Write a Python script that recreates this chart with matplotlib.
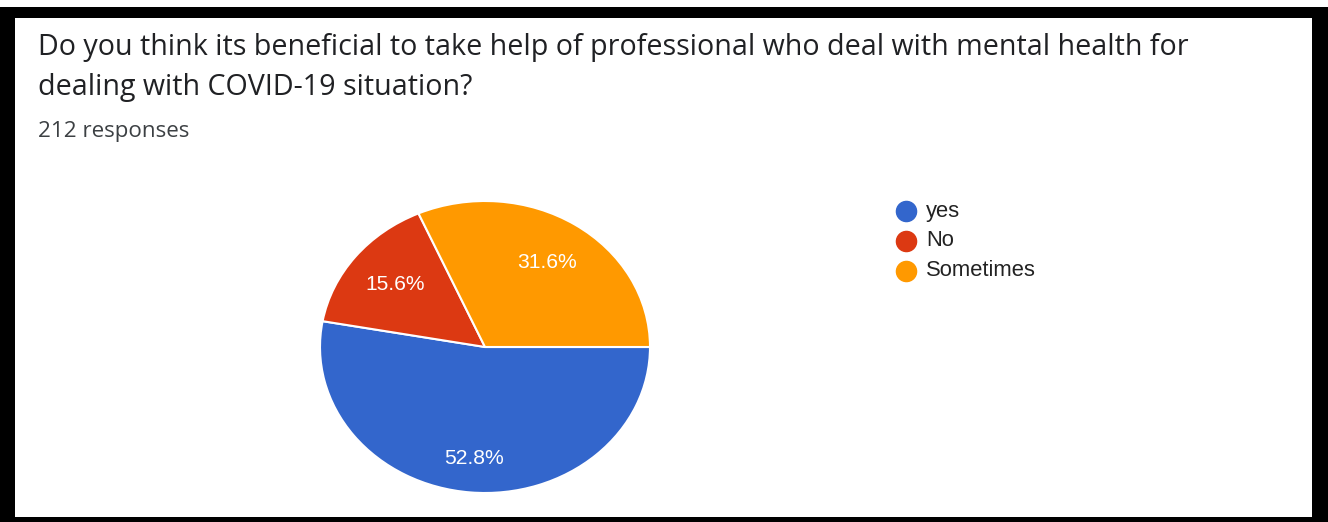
import matplotlib
matplotlib.use("Agg")
import matplotlib.pyplot as plt
from matplotlib.lines import Line2D
from matplotlib.patches import Rectangle
import numpy as np

W, H = 1328, 522
DPI = 100

title_lines = [
    "Do you think its beneficial to take help of professional who deal with mental health for",
    "dealing with COVID-19 situation?",
]
subtitle = "212 responses"
categories = ["yes", "No", "Sometimes"]
counts = [112, 33, 67]
percent_labels = ["52.8%", "15.6%", "31.6%"]
colors = ["#3366CC", "#DC3912", "#FF9900"]

fig = plt.figure(figsize=(W / DPI, H / DPI), dpi=DPI)
fig.patch.set_facecolor("white")
renderer = fig.canvas.get_renderer()


def px(x, y_top):
    """Pixel position measured from the top-left corner -> figure fraction."""
    return x / W, 1 - y_top / H


def fit(txt, width_px):
    """Scale a text's font size so that it spans the given width in pixels."""
    w = txt.get_window_extent(renderer=renderer).width
    txt.set_fontsize(txt.get_fontsize() * width_px / w)
    return txt


# black frame with white card inside
fig.add_artist(Rectangle((0, 0), 1, 1 - 7 / H, transform=fig.transFigure,
                         facecolor="black", edgecolor="none", zorder=-2))
fig.add_artist(Rectangle((15 / W, 5 / H), (1312 - 15) / W, (517 - 18) / H,
                         transform=fig.transFigure, facecolor="white",
                         edgecolor="none", zorder=-1))

# title and response count
x, y = px(38, 47)
t1 = fig.text(x, y, title_lines[0], fontsize=16, family="Open Sans",
              color="#202124", va="center", ha="left")
fit(t1, 1147)
x, y = px(38, 87)
fig.text(x, y, title_lines[1], fontsize=t1.get_fontsize(), family="Open Sans",
         color="#202124", va="center", ha="left")
x, y = px(38, 131)
t3 = fig.text(x, y, subtitle, fontsize=12, family="Open Sans", color="#3c4043",
              va="center", ha="left")
fit(t3, 150)

# pie (slightly wider than tall)
cx, cy, rx, ry = 485, 347, 165, 146
ax = fig.add_axes([(cx - rx) / W, (H - cy - ry) / H, 2 * rx / W, 2 * ry / H])
wedges, _ = ax.pie(counts, colors=colors, startangle=0, counterclock=False,
                   radius=1.0,
                   wedgeprops=dict(edgecolor="white", linewidth=1.5))
ax.set_xlim(-1, 1)
ax.set_ylim(-1, 1)
ax.set_aspect("auto")
ax.axis("off")

# percentage labels placed along each slice's mid-angle
start = 0.0
total = sum(counts)
label_r = [0.77, 0.69, 0.69]
for c, lab, r in zip(counts, percent_labels, label_r):
    span = 360.0 * c / total
    mid = np.deg2rad(start - span / 2)
    t = ax.text(r * np.cos(mid), r * np.sin(mid), lab, ha="center",
                va="center", color="white", fontsize=12.5,
                family="Liberation Sans")
    fit(t, 60)
    start -= span

# legend
legend_texts = []
for i, (name, col) in enumerate(zip(categories, colors)):
    yy = 211 + 30 * i
    mx, my = px(906, yy)
    fig.add_artist(Line2D([mx], [my], marker="o", markersize=14.5, color=col,
                          transform=fig.transFigure, linestyle="none"))
    tx, ty = px(926, yy)
    legend_texts.append(fig.text(tx, ty, name, fontsize=13.5,
                                 family="Liberation Sans", color="#222222",
                                 va="center", ha="left"))
fit(legend_texts[-1], 110)
for t in legend_texts:
    t.set_fontsize(legend_texts[-1].get_fontsize())

fig.savefig("out.png", dpi=DPI, facecolor="white")
